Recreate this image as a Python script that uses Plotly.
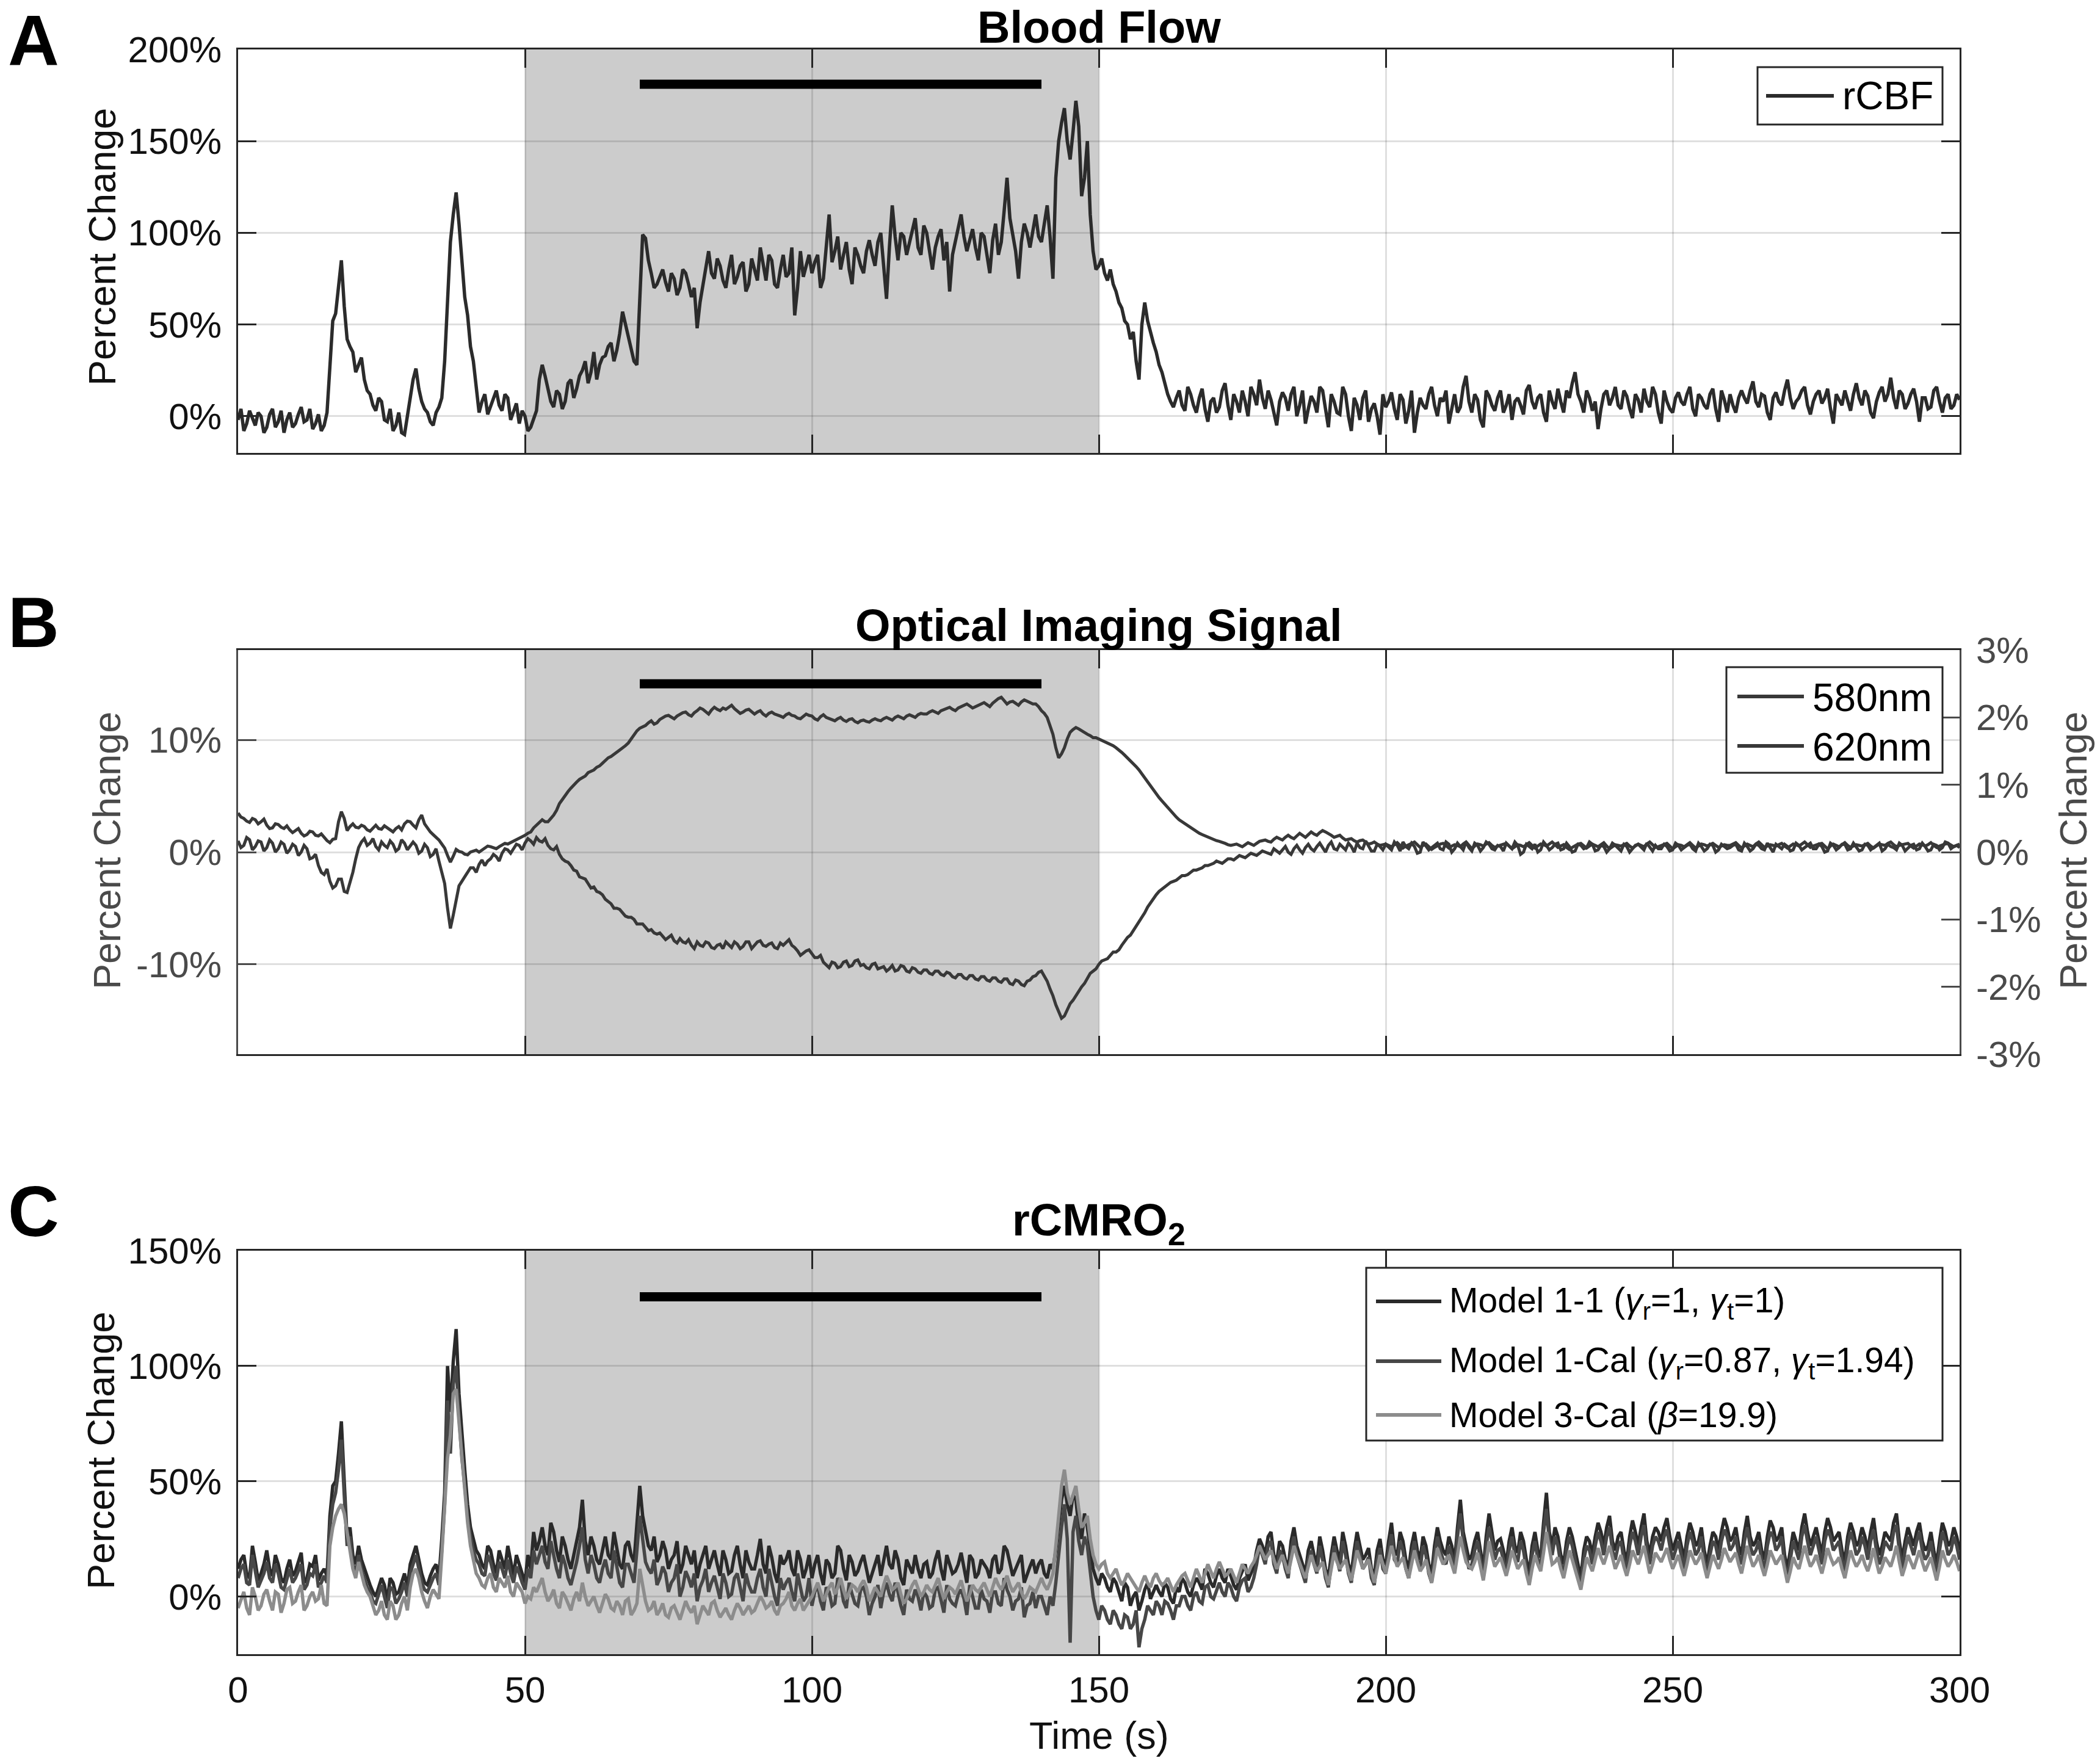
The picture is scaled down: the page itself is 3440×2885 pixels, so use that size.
import plotly.graph_objects as go

W, H = 3440, 2885
FONT = "Liberation Sans, Arial, Helvetica, sans-serif"


def px(x):
    return x / W


def py(y):
    return 1 - y / H


# ---------------- data ----------------
# samples on whole seconds (t = 0..300) and on half seconds (t = 0.5..299.5)
time_s = list(range(0, 301))
time_half = [i + 0.5 for i in range(300)]

rcbf = [
    -2, -8, 3, -5, 0, -6, 4, -3, -9, 2,
    -4, 5, -2, -7, 1, -5, 28, 56, 85, 42,
    35, 28, 20, 12, 3, 8, -3, -8, 2, -10,
    12, 26, 8, 2, -5, 5, 30, 95, 122, 82,
    55, 30, 2, 12, 5, 14, 3, 10, 2, -4,
    0, -6, 3, 28, 15, 5, 12, 8, 20, 15,
    25, 18, 35, 28, 33, 40, 36, 57, 45, 30,
    62, 97, 78, 72, 80, 68, 75, 70, 78, 65,
    48, 72, 90, 75, 82, 70, 88, 76, 84, 72,
    80, 92, 74, 85, 70, 88, 78, 55, 90, 82,
    78, 88, 75, 110, 90, 80, 95, 72, 88, 78,
    96, 82, 100, 64, 115, 85, 98, 95, 108, 88,
    100, 80, 98, 85, 68, 95, 110, 90, 102, 85,
    98, 78, 105, 95, 130, 98, 75, 105, 92, 110,
    95, 115, 75, 150, 168, 140, 172, 120, 150, 90,
    82, 78, 80, 68, 59, 50, 46, 20, 62, 45,
    35, 24, 12, 5, 14, 3, 12, 2, 15, -3,
    10, 5, 18, -2, 8, 14, 0, 12, 20, 4,
    9, -5, 13, 3, 16, 6, -4, 11, 2, 14,
    -6, 8, 1, 12, -8, 6, 10, -3, 7, -10,
    5, 13, -2, 9, 3, -9, 10, 4, 16, 0,
    8, -4, 12, 5, 22, 2, 9, -6, 11, 3,
    14, 6, -2, 10, 1, 17, 4, 12, -3, 8,
    15, 2, 10, 24, 8, 14, 3, -7, 12, 6,
    16, 4, 11, -1, 9, 15, 5, 12, -4, 8,
    2, 13, 6, 16, 0, 10, 4, 15, -3, 9,
    12, 2, 14, 7, 19, 5, 11, -2, 13, 6,
    20, 4, 10, 16, 1, 12, 7, 15, -4, 9,
    14, 3, 18, 6, 11, -1, 13, 8, 21, 4,
    12, 7, 15, -3, 10, 5, 16, 2, 12, 6,
    9,
]
rcbf_half = [
    4, -4, -1, 2, -9, 1, -6, 3, -2, -6,
    1, -3, 4, -4, -8, 2, 52, 70, 60, 38,
    24, 32, 14, 6, 10, -2, 4, -5, -9, 0,
    20, 15, 4, -3, 2, 10, 60, 110, 105, 65,
    38, 15, 8, 1, 10, 6, 12, -2, 7, 3,
    -8, -2, 20, 22, 8, 14, 4, 18, 10, 22,
    30, 24, 20, 32, 38, 30, 45, 50, 38, 28,
    99, 85, 70, 76, 73, 78, 66, 80, 72, 70,
    62, 80, 78, 86, 74, 80, 72, 82, 68, 86,
    74, 82, 88, 72, 80, 76, 92, 70, 76, 88,
    84, 70, 95, 84, 98, 88, 80, 92, 82, 90,
    88, 95, 82, 92, 98, 100, 88, 102, 92, 104,
    90, 92, 102, 95, 88, 104, 98, 96, 92, 100,
    88, 96, 88, 112, 108, 90, 95, 100, 102, 98,
    105, 98, 130, 160, 150, 155, 158, 130, 110, 80,
    86, 74, 72, 62, 52, 42, 30, 50, 52, 40,
    28, 18, 8, 10, 6, 16, 6, 10, 4, 8,
    2, 14, 6, 12, 2, 8, 16, 6, 10, 14,
    2, 8, 10, 12, 0, 14, 4, 8, 16, 4,
    12, 2, 16, 0, 10, -2, 14, 4, 0, 12,
    8, 4, 12, -4, 14, 2, 6, 12, 6, 10,
    14, 4, 2, 16, 8, 12, -2, 14, 6, 10,
    2, 12, 8, 6, 14, 8, 10, 2, 14, 4,
    8, 14, 18, 12, 2, 10, 8, 4, 14, 10,
    6, 14, 4, 12, 2, 8, 16, 2, 14, 4,
    10, 8, 12, 4, 12, 6, 12, 4, 14, 2,
    6, 10, 10, 14, 8, 12, 2, 10, 8, 14,
    10, 8, 14, 6, 8, 14, 10, 4, 12, 6,
    8, 12, 10, 14, 2, 8, 16, 12, 10, 14,
    4, 12, 8, 10, 4, 14, 8, 10, 4, 12,
]

# 580nm on the left axis (percent)
oi_580 = [
    1.0, 0.6, 1.1, 0.5, 0.9, 0.4, 0.8, 0.3, 0.7, 0.2,
    0.5, 0.0, 0.3, -0.5, -1.2, -2.0, -2.6, -3.0, -2.4, -3.6,
    -1.8, 0.4, 1.2, 0.8, 0.5, 0.9, 0.4, 0.7, 0.3, 0.8,
    0.5, 0.6, 0.1, 0.4, -0.2, -0.8, -2.8, -6.8, -4.2, -2.6,
    -1.9, -1.4, -1.1, -1.2, -0.6, -0.4, -0.1, 0.2, 0.3, 0.6,
    0.8, 1.0, 1.3, 0.9, 0.6, 0.2, -0.2, -0.8, -1.2, -1.7,
    -2.3, -2.8, -3.1, -3.6, -4.2, -4.6, -5.0, -5.4, -5.8, -6.0,
    -6.4, -6.7, -6.9, -7.3, -7.5, -7.6, -7.9, -7.7, -8.1, -8.3,
    -8.0, -8.4, -8.1, -8.6, -8.2, -8.0, -8.5, -8.2, -8.4, -8.0,
    -8.3, -7.9, -8.4, -8.1, -8.6, -8.3, -7.8, -8.5, -9.2, -8.8,
    -9.0, -9.4, -9.8, -10.3, -9.9, -10.2, -9.7, -10.1, -9.6, -10.0,
    -10.4, -9.9, -10.3, -10.6, -10.1, -10.5, -10.2, -10.7, -10.4, -10.8,
    -10.5, -10.9, -10.6, -11.0, -10.8, -11.2, -10.9, -11.3, -11.0, -11.4,
    -11.1, -11.5, -11.2, -11.6, -11.3, -11.8, -11.5, -11.9, -11.4, -11.0,
    -10.6, -11.5, -12.8, -14.2, -14.6, -13.5, -12.8, -12.0, -11.2, -10.6,
    -10.0, -9.6, -9.2, -8.9, -8.3, -7.6, -7.0, -6.3, -5.4, -4.5,
    -3.8, -3.3, -2.9, -2.6, -2.3, -2.1, -1.8, -1.6, -1.4, -1.2,
    -1.0, -0.9, -0.8, -0.6, -0.5, -0.4, -0.3, -0.2, -0.1, 0.0,
    -0.2, 0.1, 0.2, 0.0, 0.3, 0.2, 0.4, 0.3, 0.5, 0.4,
    0.6, 0.3, 0.7, 0.2, 0.5, 0.8, 0.3, 0.6, 0.1, 0.5,
    0.7, 0.2, 0.6, 0.9, 0.3, 0.5, 0.0, 0.6, 0.4, 0.8,
    0.2, 0.7, 0.3, 0.5, 0.9, 0.1, 0.6, 0.4, 0.7, 0.2,
    0.5, 0.8, 0.3, 0.6, 0.0, 0.5, 0.7, 0.2, 0.6, 0.4,
    0.8, 0.3, 0.5, 0.1, 0.6, 0.4, 0.7, 0.2, 0.5, 0.3,
    0.6, 0.1, 0.5, 0.3, 0.7, 0.2, 0.4, 0.6, 0.3, 0.5,
    0.2, 0.6, 0.4, 0.7, 0.1, 0.5, 0.3, 0.6, 0.2, 0.5,
    0.4, 0.7, 0.1, 0.5, 0.3, 0.6, 0.2, 0.4, 0.7, 0.3,
    0.5, 0.2, 0.6, 0.4, 0.8, 0.3, 0.5, 0.1, 0.6, 0.4,
    0.7, 0.3, 0.5, 0.2, 0.6, 0.4, 0.8, 0.3, 0.5, 0.2,
    0.6, 0.4, 0.7, 0.3, 0.5, 0.2, 0.6, 0.4, 0.8, 0.5,
    0.4,
]
oi_580_half = [
    0.4, 1.3, 0.2, 1.0, 0.1, 1.1, 0.0, 0.9, -0.1, 0.7,
    -0.3, 0.6, -0.6, -0.2, -1.8, -1.5, -3.2, -2.4, -3.5, -2.8,
    -0.6, 0.9, 0.6, 1.2, 0.2, 0.6, 1.0, 0.1, 1.1, 0.2,
    0.9, -0.1, 0.7, -0.4, 0.3, -1.8, -5.0, -5.6, -3.0, -2.2,
    -1.4, -1.8, -0.7, -0.8, -0.2, -0.8, 0.3, -0.1, 0.7, 0.2,
    1.2, 0.7, 1.0, 1.2, 0.3, 0.5, -0.6, -0.9, -1.6, -2.2,
    -2.4, -3.2, -3.5, -3.8, -4.4, -5.0, -5.1, -5.7, -5.8, -6.4,
    -6.4, -7.0, -7.2, -7.2, -7.8, -7.4, -8.1, -8.0, -7.8, -8.6,
    -8.3, -8.0, -8.5, -8.3, -8.6, -8.3, -8.0, -8.6, -8.0, -8.6,
    -8.0, -8.3, -8.2, -8.5, -8.1, -8.0, -8.3, -8.8, -9.0, -8.7,
    -9.4, -9.2, -10.1, -9.8, -10.3, -9.8, -10.2, -9.7, -10.1, -10.3,
    -10.0, -10.4, -10.2, -10.4, -10.6, -10.1, -10.6, -10.3, -10.7, -10.5,
    -10.8, -10.6, -10.9, -10.7, -11.1, -10.9, -11.2, -11.0, -11.3, -11.1,
    -11.4, -11.2, -11.5, -11.3, -11.7, -11.4, -11.8, -11.5, -11.1, -10.7,
    -11.0, -12.2, -13.6, -14.8, -14.0, -13.2, -12.3, -11.7, -10.8, -10.4,
    -9.7, -9.5, -8.9, -8.7, -7.9, -7.4, -6.6, -5.9, -4.9, -4.2,
    -3.5, -3.1, -2.7, -2.5, -2.1, -2.0, -1.6, -1.5, -1.2, -1.1,
    -0.8, -1.0, -0.6, -0.7, -0.3, -0.5, -0.1, -0.3, 0.1, -0.1,
    0.3, -0.1, 0.5, -0.2, 0.6, -0.1, 0.7, 0.1, 0.8, 0.0,
    0.9, 0.2, 0.4, 0.8, 0.0, 0.4, 1.0, 0.1, 0.7, 0.2,
    0.4, 0.9, 0.1, 0.5, 0.8, -0.1, 0.9, 0.2, 0.6, 0.3,
    0.9, 0.0, 0.8, 0.2, 0.4, 0.8, 0.1, 0.9, 0.3, 0.6,
    0.1, 0.5, 0.9, -0.2, 0.7, 0.3, 0.0, 0.9, 0.2, 0.7,
    0.2, 0.8, 0.0, 0.7, 0.3, 0.9, 0.1, 0.6, 0.0, 0.8,
    0.3, 0.7, 0.0, 0.6, 0.4, 0.8, 0.1, 0.3, 0.7, 0.1,
    0.8, 0.2, 0.6, 0.3, 0.8, 0.1, 0.7, 0.0, 0.7, 0.3,
    0.6, 0.2, 0.8, 0.1, 0.7, 0.3, 0.8, 0.0, 0.5, 0.7,
    0.1, 0.8, 0.2, 0.6, 0.3, 0.7, 0.0, 0.8, 0.2, 0.7,
    0.2, 0.8, 0.1, 0.7, 0.2, 0.6, 0.1, 0.7, 0.4, 0.8,
    0.1, 0.6, 0.2, 0.8, 0.1, 0.7, 0.2, 0.9, 0.3, 0.6,
]

# 620nm on the right axis (percent)
oi_620 = [
    0.58, 0.50, 0.44, 0.48, 0.45, 0.40, 0.36, 0.41, 0.35, 0.33,
    0.32, 0.28, 0.26, 0.30, 0.24, 0.22, 0.14, 0.20, 0.60, 0.32,
    0.42, 0.36, 0.38, 0.31, 0.40, 0.34, 0.36, 0.30, 0.38, 0.42,
    0.45, 0.36, 0.55, 0.35, 0.26, 0.18, 0.06, -0.15, 0.04, 0.00,
    -0.04, 0.02, 0.00, 0.06, 0.08, 0.05, 0.10, 0.12, 0.16, 0.20,
    0.25, 0.30, 0.40, 0.48, 0.45, 0.55, 0.72, 0.85, 0.95, 1.04,
    1.10, 1.18, 1.22, 1.28, 1.36, 1.42, 1.48, 1.55, 1.62, 1.74,
    1.84, 1.88, 1.95, 1.92, 2.00, 2.03, 1.98, 2.05, 2.08, 2.02,
    2.10, 2.12, 2.05, 2.15, 2.10, 2.12, 2.18, 2.10, 2.08, 2.12,
    2.05, 2.10, 2.02, 2.08, 2.04, 2.00, 2.06, 2.02, 1.98, 2.05,
    2.02, 1.96, 2.04, 1.98, 1.95, 2.00, 1.94, 1.98, 1.92, 1.96,
    1.93, 1.98, 1.95, 2.00, 1.96, 2.02, 1.98, 2.04, 2.00, 2.06,
    2.05, 2.10, 2.06, 2.12, 2.15, 2.10, 2.16, 2.20, 2.14, 2.18,
    2.22, 2.16, 2.25, 2.30, 2.20, 2.24, 2.18, 2.26, 2.22, 2.20,
    2.10, 2.00, 1.75, 1.40, 1.55, 1.78, 1.85, 1.80, 1.75, 1.70,
    1.68, 1.64, 1.60, 1.55, 1.48, 1.40, 1.32, 1.22, 1.10, 0.98,
    0.86, 0.76, 0.66, 0.56, 0.48, 0.42, 0.36, 0.30, 0.26, 0.22,
    0.18, 0.16, 0.13, 0.10, 0.12, 0.08, 0.14, 0.10, 0.16, 0.18,
    0.15, 0.22, 0.18, 0.25, 0.20, 0.28, 0.22, 0.30, 0.25, 0.32,
    0.28, 0.22, 0.25, 0.18, 0.20, 0.15, 0.18, 0.12, 0.15, 0.10,
    0.12, 0.08, 0.14, 0.06, 0.11, 0.15, 0.07, 0.12, 0.04, 0.10,
    0.13, 0.06, 0.11, 0.08, 0.15, 0.05, 0.12, 0.09, 0.14, 0.07,
    0.10, 0.13, 0.05, 0.11, 0.08, 0.14, 0.06, 0.12, 0.09, 0.15,
    0.07, 0.11, 0.04, 0.10, 0.13, 0.06, 0.12, 0.08, 0.14, 0.05,
    0.11, 0.09, 0.13, 0.06, 0.12, 0.08, 0.15, 0.07, 0.10, 0.13,
    0.05, 0.11, 0.08, 0.14, 0.06, 0.12, 0.09, 0.13, 0.07, 0.11,
    0.10, 0.14, 0.06, 0.12, 0.08, 0.15, 0.07, 0.11, 0.09, 0.13,
    0.06, 0.12, 0.09, 0.15, 0.07, 0.11, 0.13, 0.05, 0.12, 0.08,
    0.14, 0.07, 0.11, 0.09, 0.13, 0.06, 0.12, 0.10, 0.15, 0.08,
    0.11, 0.13, 0.06, 0.12, 0.09, 0.14, 0.07, 0.11, 0.13, 0.08,
    0.12,
]
oi_620_half = [
    0.52, 0.46, 0.50, 0.42, 0.49, 0.35, 0.42, 0.37, 0.39, 0.29,
    0.35, 0.24, 0.31, 0.25, 0.27, 0.17, 0.19, 0.45, 0.50, 0.38,
    0.37, 0.40, 0.33, 0.36, 0.35, 0.39, 0.32, 0.35, 0.33, 0.46,
    0.40, 0.48, 0.42, 0.30, 0.22, 0.12, -0.05, -0.06, 0.01, -0.03,
    0.00, 0.03, 0.03, 0.09, 0.06, 0.08, 0.13, 0.14, 0.18, 0.23,
    0.28, 0.36, 0.44, 0.45, 0.50, 0.62, 0.78, 0.90, 1.00, 1.08,
    1.13, 1.20, 1.26, 1.32, 1.40, 1.45, 1.52, 1.58, 1.68, 1.80,
    1.86, 1.92, 1.90, 1.97, 2.02, 2.00, 2.02, 2.07, 2.04, 2.07,
    2.14, 2.08, 2.11, 2.12, 2.14, 2.15, 2.13, 2.06, 2.11, 2.08,
    2.08, 2.05, 2.06, 2.05, 2.02, 2.04, 2.03, 1.99, 2.02, 2.03,
    1.98, 2.01, 2.00, 1.96, 1.98, 1.96, 1.97, 1.94, 1.95, 1.94,
    1.96, 1.96, 1.98, 1.98, 2.00, 2.00, 2.02, 2.02, 2.04, 2.05,
    2.08, 2.08, 2.10, 2.14, 2.12, 2.14, 2.19, 2.17, 2.16, 2.21,
    2.19, 2.21, 2.28, 2.25, 2.23, 2.21, 2.23, 2.24, 2.20, 2.16,
    2.06, 1.88, 1.55, 1.46, 1.68, 1.82, 1.83, 1.78, 1.73, 1.70,
    1.66, 1.63, 1.58, 1.52, 1.44, 1.36, 1.27, 1.16, 1.04, 0.92,
    0.81, 0.71, 0.61, 0.52, 0.45, 0.39, 0.33, 0.28, 0.24, 0.20,
    0.17, 0.15, 0.11, 0.11, 0.10, 0.11, 0.12, 0.13, 0.17, 0.16,
    0.19, 0.20, 0.22, 0.22, 0.24, 0.25, 0.26, 0.27, 0.29, 0.30,
    0.25, 0.24, 0.21, 0.19, 0.17, 0.17, 0.15, 0.13, 0.12, 0.11,
    0.10, 0.11, 0.10, 0.09, 0.13, 0.11, 0.10, 0.08, 0.07, 0.12,
    0.09, 0.09, 0.10, 0.12, 0.10, 0.09, 0.11, 0.12, 0.10, 0.09,
    0.12, 0.09, 0.08, 0.10, 0.11, 0.10, 0.09, 0.11, 0.12, 0.11,
    0.09, 0.07, 0.07, 0.12, 0.09, 0.09, 0.10, 0.11, 0.09, 0.08,
    0.10, 0.11, 0.09, 0.09, 0.10, 0.12, 0.11, 0.08, 0.12, 0.09,
    0.08, 0.10, 0.11, 0.10, 0.09, 0.11, 0.11, 0.10, 0.09, 0.10,
    0.12, 0.10, 0.09, 0.10, 0.12, 0.11, 0.09, 0.10, 0.11, 0.09,
    0.09, 0.11, 0.12, 0.11, 0.09, 0.12, 0.09, 0.09, 0.10, 0.11,
    0.10, 0.09, 0.10, 0.11, 0.09, 0.09, 0.11, 0.13, 0.11, 0.10,
    0.12, 0.09, 0.09, 0.11, 0.11, 0.10, 0.09, 0.12, 0.10, 0.10,
]

model_1_1 = [
    12, 18, 8, 15, 10, 20, 9, 14, 6, 16,
    11, 19, 8, 13, 7, 12, 35, 50, 76, 25,
    18, 22, 12, 5, 0, 8, -2, 6, 2, 10,
    14, 22, 10, 5, 12, 8, 45, 80, 116, 70,
    40, 25, 18, 12, 20, 10, 16, 22, 9, 14,
    6, 12, 20, 30, 18, 28, 15, 22, 12, 25,
    42, 18, 22, 14, 26, 16, 20, 12, 24, 15,
    48, 28, 20, 15, 24, 12, 18, 10, 22, 14,
    8, 18, 12, 20, 9, 16, 11, 22, 8, 15,
    12, 25, 10, 17, 6, 14, 20, 9, 16, 12,
    8, 18, 5, 14, 10, 20, 7, 15, 11, 18,
    6, 14, 9, 22, 12, 16, 5, 13, 18, 8,
    15, 10, 20, 7, 14, 11, 19, 6, 16, 10,
    14, 8, 18, 12, 20, 9, 15, 6, 13, 10,
    16, 8, 12, 30, 48, 35, 42, 25, 30, 12,
    5, 8, 2, 6, -2, 4, 0, -6, 3, -1,
    5, 0, 4, -3, 2, 6, 0, 8, 3, 10,
    4, 12, 6, 9, 3, 11, 7, 13, 25, 18,
    28, 15, 22, 12, 30, 18, 10, 24, 14, 20,
    8, 26, 15, 22, 10, 28, 16, 21, 9, 25,
    14, 32, 18, 24, 12, 28, 16, 22, 10, 30,
    20, 26, 15, 42, 22, 18, 28, 12, 36, 20,
    25, 14, 30, 19, 24, 10, 28, 17, 45, 22,
    26, 14, 30, 20, 8, 26, 18, 32, 22, 35,
    20, 28, 15, 33, 22, 36, 18, 30, 24, 34,
    20, 28, 16, 32, 22, 30, 14, 28, 20, 34,
    24, 30, 18, 35, 22, 28, 16, 33, 24, 30,
    12, 28, 20, 36, 22, 30, 18, 34, 24, 28,
    15, 32, 22, 30, 20, 34, 18, 28, 24, 36,
    16, 30, 22, 32, 20, 28, 14, 32, 22, 30,
    20,
]
model_1_1_half = [
    16, 10, 22, 7, 14, 12, 18, 8, 12, 9,
    15, 6, 14, 18, 10, 9, 48, 62, 50, 30,
    14, 16, 8, 2, 4, 5, 8, 1, 6, 4,
    18, 16, 6, 9, 14, 25, 100, 102, 88, 55,
    30, 20, 14, 22, 14, 20, 12, 15, 18, 10,
    18, 28, 24, 22, 32, 20, 26, 16, 18, 30,
    24, 26, 16, 20, 18, 28, 14, 22, 18, 30,
    35, 22, 26, 18, 20, 16, 24, 14, 18, 20,
    14, 22, 16, 14, 20, 10, 18, 14, 20, 12,
    18, 14, 22, 10, 18, 16, 12, 20, 8, 18,
    14, 10, 16, 8, 22, 12, 18, 9, 15, 12,
    10, 18, 15, 14, 20, 8, 16, 10, 12, 14,
    8, 16, 12, 18, 10, 14, 12, 18, 8, 16,
    12, 16, 10, 22, 14, 12, 18, 10, 16, 14,
    10, 14, 20, 42, 40, 44, 30, 36, 20, 8,
    10, 4, 8, 2, 6, -4, 2, -2, 6, 2,
    2, 6, -1, 4, 8, 2, 5, 6, 12, 6,
    9, 8, 12, 5, 8, 14, 10, 20, 22, 26,
    18, 24, 16, 24, 22, 14, 20, 18, 26, 12,
    18, 20, 28, 14, 20, 22, 18, 12, 20, 16,
    24, 20, 28, 16, 22, 20, 26, 14, 22, 24,
    18, 22, 30, 28, 16, 24, 20, 26, 28, 24,
    20, 24, 22, 28, 16, 22, 20, 32, 28, 30,
    18, 24, 26, 14, 20, 24, 26, 28, 30, 24,
    26, 20, 26, 28, 30, 24, 26, 28, 30, 26,
    24, 22, 26, 28, 24, 20, 22, 26, 28, 30,
    26, 22, 28, 26, 24, 20, 26, 30, 26, 18,
    20, 24, 30, 28, 26, 24, 28, 30, 26, 20,
    26, 28, 24, 26, 28, 24, 22, 26, 32, 24,
    24, 26, 28, 24, 22, 20, 24, 28, 24, 26,
]

model_1_cal = [
    8, 14, 5, 11, 7, 15, 6, 10, 3, 12,
    8, 14, 5, 9, 4, 9, 30, 45, 68, 22,
    14, 18, 8, 2, -3, 5, -5, 3, -1, 6,
    10, 18, 6, 2, 8, 5, 40, 62, 100, 60,
    35, 20, 14, 9, 15, 7, 12, 16, 6, 10,
    3, 8, 14, 22, 12, 18, 8, 14, 5, 15,
    30, 10, 14, 6, 16, 8, 12, 4, 14, 6,
    35, 15, 10, 5, 13, 2, 8, 0, 11, 4,
    -2, 7, 2, 9, -1, 6, 1, 10, -2, 5,
    2, 12, 0, 6, -4, 3, 8, -2, 4, 0,
    -4, 5, -6, 2, -3, 6, -5, 1, -4, 4,
    -8, 0, -5, 6, -2, 2, -8, -1, 3, -6,
    0, -4, 4, -7, -1, -4, 3, -8, 0, -5,
    -1, -7, 2, -4, 3, -6, -1, -9, -3, -5,
    0, -8, -4, 20, 40, -20, 35, 18, 22, 0,
    -10, -6, -12, -8, -14, -9, -12, -22, -10, -6,
    -2, -8, -3, -10, -4, 0, -6, 2, -3, 5,
    -1, 6, 0, 4, -2, 7, 2, 8, 22, 14,
    24, 10, 18, 8, 26, 14, 6, 20, 10, 16,
    4, 22, 11, 18, 6, 24, 12, 17, 5, 21,
    10, 27, 14, 20, 8, 24, 12, 18, 6, 26,
    16, 22, 11, 36, 18, 14, 24, 8, 30, 16,
    21, 10, 26, 15, 20, 6, 24, 13, 38, 18,
    22, 10, 26, 16, 4, 22, 14, 28, 18, 30,
    16, 24, 11, 28, 18, 31, 14, 26, 20, 29,
    16, 24, 12, 28, 18, 26, 10, 24, 16, 29,
    20, 26, 14, 30, 18, 24, 12, 28, 20, 26,
    8, 24, 16, 31, 18, 26, 14, 29, 20, 24,
    11, 28, 18, 26, 16, 29, 14, 24, 20, 31,
    12, 26, 18, 28, 16, 24, 10, 28, 18, 26,
    16,
]
model_1_cal_half = [
    12, 6, 18, 4, 10, 8, 14, 4, 8, 6,
    11, 3, 10, 14, 6, 6, 40, 55, 44, 26,
    10, 12, 4, -2, 1, 0, 4, -3, 2, 0,
    14, 12, 3, 5, 10, 20, 85, 92, 78, 48,
    26, 16, 10, 18, 10, 15, 8, 10, 13, 6,
    12, 20, 18, 15, 24, 12, 18, 8, 10, 22,
    16, 18, 8, 12, 10, 20, 6, 14, 10, 20,
    25, 12, 16, 8, 10, 6, 14, 4, 8, 10,
    4, 12, 6, 4, 10, 0, 8, 4, 10, 2,
    8, 4, 12, 0, 8, 6, 2, 10, -2, 8,
    2, -2, 4, -4, 8, -2, 6, -3, 3, 0,
    -3, 5, 2, 1, 6, -4, 3, -2, 0, 2,
    -5, 3, -1, 5, -3, 1, -1, 5, -5, 3,
    -2, 2, -3, 8, 0, -2, 4, -4, 2, 0,
    -4, 0, 6, 30, 25, 28, 24, 26, 10, -6,
    -4, -10, -6, -12, -8, -14, -6, -14, -4, -8,
    -4, -2, -6, -4, 0, -4, 0, -2, 4, 0,
    3, 2, 6, 0, 4, 8, 4, 14, 18, 22,
    14, 20, 12, 20, 18, 10, 16, 14, 22, 8,
    14, 16, 24, 10, 16, 18, 14, 8, 16, 12,
    20, 16, 24, 12, 18, 16, 22, 10, 18, 20,
    14, 18, 26, 24, 12, 20, 16, 22, 24, 20,
    16, 20, 18, 24, 12, 18, 16, 28, 24, 26,
    14, 20, 22, 10, 16, 20, 22, 24, 26, 20,
    22, 16, 22, 24, 26, 20, 22, 24, 26, 22,
    20, 18, 22, 24, 20, 16, 18, 22, 24, 26,
    22, 18, 24, 22, 20, 16, 22, 26, 22, 14,
    16, 20, 26, 24, 22, 20, 24, 26, 22, 16,
    22, 24, 20, 22, 24, 20, 18, 22, 28, 20,
    20, 22, 24, 20, 18, 16, 20, 24, 20, 22,
]

model_3_cal = [
    -5, 2, -8, 0, -4, 3, -6, 1, -3, 4,
    -2, 5, -4, 2, -1, -3, 22, 35, 40, 28,
    12, 15, 5, 0, -8, -2, -10, -4, -8, 0,
    4, 12, 2, -5, 3, -1, 38, 70, 90, 60,
    32, 15, 8, 4, 10, 2, 6, 9, 0, 4,
    -3, -1, 2, 8, -2, 3, -5, 0, -6, 2,
    6, -4, 0, -7, 1, -5, -2, -8, -1, -6,
    12, -2, -5, -8, -3, -9, -4, -10, -2, -7,
    -12, -4, -8, -2, -9, -5, -10, -3, -8, -4,
    -6, 0, -5, -2, -8, -3, 2, -6, -1, -4,
    0, 6, -2, 4, 1, 8, -1, 5, 2, 7,
    -2, 4, 0, 9, 3, 6, -3, 2, 7, 0,
    5, 2, 8, -1, 4, 1, 7, -2, 5, 2,
    6, 0, 8, 3, 9, 2, 6, -1, 4, 2,
    8, 3, 10, 35, 55, 40, 48, 30, 35, 18,
    12, 15, 8, 12, 5, 10, 6, 2, 9, 4,
    10, 5, 8, 2, 7, 10, 4, 12, 6, 14,
    8, 15, 9, 12, 6, 14, 10, 15, 22, 16,
    20, 12, 18, 10, 22, 14, 8, 18, 11, 15,
    5, 19, 12, 16, 7, 20, 12, 16, 6, 18,
    10, 22, 13, 17, 8, 20, 11, 16, 6, 21,
    14, 18, 10, 26, 15, 12, 19, 7, 24, 13,
    17, 9, 20, 12, 16, 5, 18, 11, 28, 14,
    17, 8, 20, 12, 3, 17, 11, 21, 14, 22,
    12, 18, 9, 20, 14, 22, 10, 19, 15, 21,
    12, 18, 9, 20, 14, 19, 8, 18, 12, 21,
    15, 19, 10, 22, 13, 18, 9, 20, 14, 18,
    6, 17, 12, 22, 13, 18, 10, 21, 14, 17,
    8, 20, 13, 18, 11, 21, 10, 17, 13, 22,
    9, 18, 12, 20, 11, 17, 7, 20, 13, 18,
    11,
]
model_3_cal_half = [
    -1, -5, 4, -6, 1, -2, 2, -7, 3, -3,
    2, -6, 0, -2, 5, -4, 30, 38, 36, 20,
    8, 10, 2, -4, -6, -8, -2, -10, -3, -6,
    10, 8, -2, 0, 1, 18, 60, 88, 75, 45,
    22, 10, 5, 8, 4, 8, 4, 2, 6, 2,
    0, 4, 5, 2, 0, -3, 2, -3, -1, -2,
    0, -2, -4, -3, -1, -6, -4, -2, -8, -3,
    5, -6, -2, -6, -8, -5, -7, -6, -5, -4,
    -8, -6, -3, -6, -7, -8, -6, -5, -6, -7,
    -3, -2, -4, -6, -4, -1, -4, -3, -6, -2,
    3, 2, 1, 6, 4, 3, 2, 4, 5, 4,
    1, 2, 5, 6, 4, 1, -1, 5, 3, 2,
    3, 5, 3, 2, 3, 4, 2, 1, 3, 4,
    3, 4, 5, 6, 5, 4, 2, 1, 3, 5,
    5, 6, 22, 48, 45, 44, 38, 32, 25, 14,
    14, 10, 10, 8, 7, 8, 4, 6, 6, 8,
    7, 6, 5, 5, 9, 7, 8, 9, 10, 11,
    12, 12, 10, 9, 10, 12, 13, 18, 19, 18,
    16, 15, 14, 16, 18, 11, 13, 14, 13, 10,
    12, 15, 14, 11, 13, 16, 14, 11, 12, 14,
    16, 17, 15, 12, 14, 15, 13, 11, 13, 17,
    16, 14, 18, 20, 13, 15, 13, 15, 18, 15,
    13, 14, 16, 14, 10, 12, 14, 19, 21, 15,
    12, 14, 16, 8, 10, 14, 16, 17, 18, 17,
    15, 13, 14, 17, 18, 16, 14, 17, 18, 16,
    15, 13, 14, 17, 16, 13, 13, 15, 16, 18,
    17, 14, 16, 17, 15, 13, 14, 17, 16, 12,
    11, 14, 17, 17, 15, 14, 15, 17, 15, 12,
    14, 16, 15, 14, 15, 15, 13, 15, 17, 15,
    13, 15, 16, 15, 14, 12, 13, 16, 15, 15,
]

stim_bar_t = [70, 140]
stim_bar_level_a = [181, 181]
stim_bar_level_b = [15, 15]
stim_bar_level_c = [130, 130]
shade_t = [50, 150]

x_ticks = [0, 50, 100, 150, 200, 250, 300]
x_ticktext = ["0", "50", "100", "150", "200", "250", "300"]
a_ticks = [0, 50, 100, 150, 200]
a_ticktext = ["0%", "50%", "100%", "150%", "200%"]
b_left_ticks = [-10, 0, 10]
b_left_ticktext = ["-10%", "0%", "10%"]
b_right_ticks = [-3, -2, -1, 0, 1, 2, 3]
b_right_ticktext = ["-3%", "-2%", "-1%", "0%", "1%", "2%", "3%"]
c_ticks = [0, 50, 100, 150]
c_ticktext = ["0%", "50%", "100%", "150%"]


def merge(whole, half):
    """Put the whole-second and half-second samples in time order."""
    out = []
    for i in range(len(half)):
        out.append(whole[i])
        out.append(half[i])
    out.append(whole[-1])
    return out


t_all = merge(time_s, time_half)

# ---------------- colours / styles ----------------
C_RCBF = "#2b2b2b"
C_580 = "#383838"
C_620 = "#383838"
C_M11 = "#2a2a2a"
C_M1C = "#474747"
C_M3C = "#8c8c8c"
AX = "#262626"
AXB = "#4a4a4a"
GRID = "rgba(38,38,38,0.15)"
LW = 5.5
LW_B = 5

fig = go.Figure()


def line(x, y, color, xa, ya, width=LW):
    fig.add_trace(go.Scatter(x=x, y=y, mode="lines", xaxis=xa, yaxis=ya,
                             line=dict(color=color, width=width),
                             showlegend=False, hoverinfo="skip"))


# Panel A
line(t_all, merge(rcbf, rcbf_half), C_RCBF, "x", "y")
line(stim_bar_t, stim_bar_level_a, "#000000", "x", "y", 15)
# Panel B
line(t_all, merge(oi_580, oi_580_half), C_580, "x2", "y2", LW_B)
line(t_all, merge(oi_620, oi_620_half), C_620, "x2", "y3", LW_B)
line(stim_bar_t, stim_bar_level_b, "#000000", "x2", "y2", 15)
# Panel C
line(t_all, merge(model_1_1, model_1_1_half), C_M11, "x3", "y4")
line(t_all, merge(model_1_cal, model_1_cal_half), C_M1C, "x3", "y4")
line(t_all, merge(model_3_cal, model_3_cal_half), C_M3C, "x3", "y4")
line(stim_bar_t, stim_bar_level_c, "#000000", "x3", "y4", 15)

XD = [px(390), px(3210)]
DOM_A = [py(742), py(81)]
DOM_B = [py(1727), py(1065)]
DOM_C = [py(2710), py(2049)]


def xaxis(anchor, labels):
    return dict(domain=XD, anchor=anchor, range=[0, 300], tickmode="array",
                tickvals=x_ticks, ticktext=x_ticktext, showticklabels=labels,
                showgrid=True, gridcolor=GRID, gridwidth=2.5, zeroline=False,
                showline=True, linecolor=AX, linewidth=3, mirror="ticks",
                ticks="inside", ticklen=30, tickwidth=3, tickcolor=AX,
                ticklabelstandoff=4, automargin=False,
                tickfont=dict(family=FONT, size=60, color="#111111"))


def yaxis(anchor, dom, rng, tv, tt, color=AX, mirror="ticks", fontcolor="#111111"):
    return dict(domain=dom, anchor=anchor, range=rng, tickmode="array",
                tickvals=tv, ticktext=tt, showgrid=True, gridcolor=GRID,
                gridwidth=2.5, zeroline=False, showline=True, linecolor=color,
                linewidth=3, mirror=mirror, ticks="inside", ticklen=30,
                tickwidth=3, tickcolor=color, ticklabelstandoff=12,
                automargin=False,
                tickfont=dict(family=FONT, size=60, color=fontcolor))


shapes = []
for xr, yr in (("x", "y domain"), ("x2", "y2 domain"), ("x3", "y4 domain")):
    shapes.append(dict(type="rect", xref=xr, yref=yr, x0=shade_t[0], x1=shade_t[1],
                       y0=0, y1=1, fillcolor="#cccccc", line=dict(width=0),
                       layer="below"))

annotations = []


def text(x, y, s, size, color="#000000", xanchor="center", yanchor="middle", angle=0):
    annotations.append(dict(x=px(x), y=py(y), xref="paper", yref="paper", text=s,
                            showarrow=False, xanchor=xanchor, yanchor=yanchor,
                            textangle=angle,
                            font=dict(family=FONT, size=size, color=color)))


def legend_box(x0, y0, x1, y1):
    shapes.append(dict(type="rect", xref="paper", yref="paper", x0=px(x0), x1=px(x1),
                       y0=py(y1), y1=py(y0), fillcolor="white",
                       line=dict(color=AX, width=3), layer="above"))


def legend_line(x0, x1, y, color):
    shapes.append(dict(type="line", xref="paper", yref="paper", x0=px(x0), x1=px(x1),
                       y0=py(y), y1=py(y), line=dict(color=color, width=6),
                       layer="above"))


# panel letters
text(55, 0, "<b>A</b>", 116, yanchor="top")
text(55, 1020, "<b>B</b>", 116)
text(55, 1985, "<b>C</b>", 116)
# titles
text(1800, 44, "<b>Blood Flow</b>", 74)
text(1800, 1024, "<b>Optical Imaging Signal</b>", 74)
text(1800, 2004, "<b>rCMRO<sub>2</sub></b>", 74)
# axis titles
text(167, 405, "Percent Change", 63, "#111111", angle=-90)
text(175, 1394, "Percent Change", 63, AXB, angle=-90)
text(3396, 1394, "Percent Change", 63, AXB, angle=-90)
text(165, 2377, "Percent Change", 63, "#111111", angle=-90)
text(1800, 2843, "Time (s)", 63, "#111111")

# legend A
legend_box(2879, 110, 3182, 204)
legend_line(2893, 3004, 157, C_RCBF)
text(3016, 157, "rCBF", 64, xanchor="left")
# legend B
legend_box(2828, 1093, 3182, 1266)
legend_line(2846, 2955, 1141, C_580)
legend_line(2846, 2955, 1222, C_620)
text(2967, 1143, "580nm", 64, xanchor="left")
text(2967, 1224, "620nm", 64, xanchor="left")
# legend C
legend_box(2238, 2077, 3182, 2360)
legend_line(2254, 2361, 2132, C_M11)
legend_line(2254, 2361, 2230, C_M1C)
legend_line(2254, 2361, 2318, C_M3C)
text(2372, 2134, "Model 1-1 (<i>γ</i><sub>r</sub>=1, <i>γ</i><sub>t</sub>=1)", 57, xanchor="left")
text(2372, 2232, "Model 1-Cal (<i>γ</i><sub>r</sub>=0.87, <i>γ</i><sub>t</sub>=1.94)", 57, xanchor="left")
text(2372, 2318, "Model 3-Cal (<i>β</i>=19.9)", 57, xanchor="left")

fig.update_layout(
    width=W, height=H, autosize=False,
    margin=dict(l=0, r=0, t=0, b=0, pad=0),
    paper_bgcolor="white", plot_bgcolor="white",
    showlegend=False,
    font=dict(family=FONT),
    xaxis=xaxis("y", False),
    yaxis=yaxis("x", DOM_A, [-20, 200], a_ticks, a_ticktext),
    xaxis2=xaxis("y2", False),
    yaxis2=yaxis("x2", DOM_B, [-18, 18], b_left_ticks, b_left_ticktext,
                 color=AXB, mirror=True, fontcolor=AXB),
    yaxis3=dict(overlaying="y2", anchor="x2", side="right", range=[-3, 3],
                tickmode="array", tickvals=b_right_ticks, ticktext=b_right_ticktext,
                showgrid=False, zeroline=False, showline=True, linecolor=AXB,
                linewidth=3, ticks="inside", ticklen=30, tickwidth=3,
                tickcolor=AXB, ticklabelstandoff=12, automargin=False,
                tickfont=dict(family=FONT, size=60, color=AXB)),
    xaxis3=xaxis("y4", True),
    yaxis4=yaxis("x3", DOM_C, [-25, 150], c_ticks, c_ticktext),
    shapes=shapes,
    annotations=annotations,
)

fig.write_html("out.html", post_script="document.body.style.margin='0px';")
